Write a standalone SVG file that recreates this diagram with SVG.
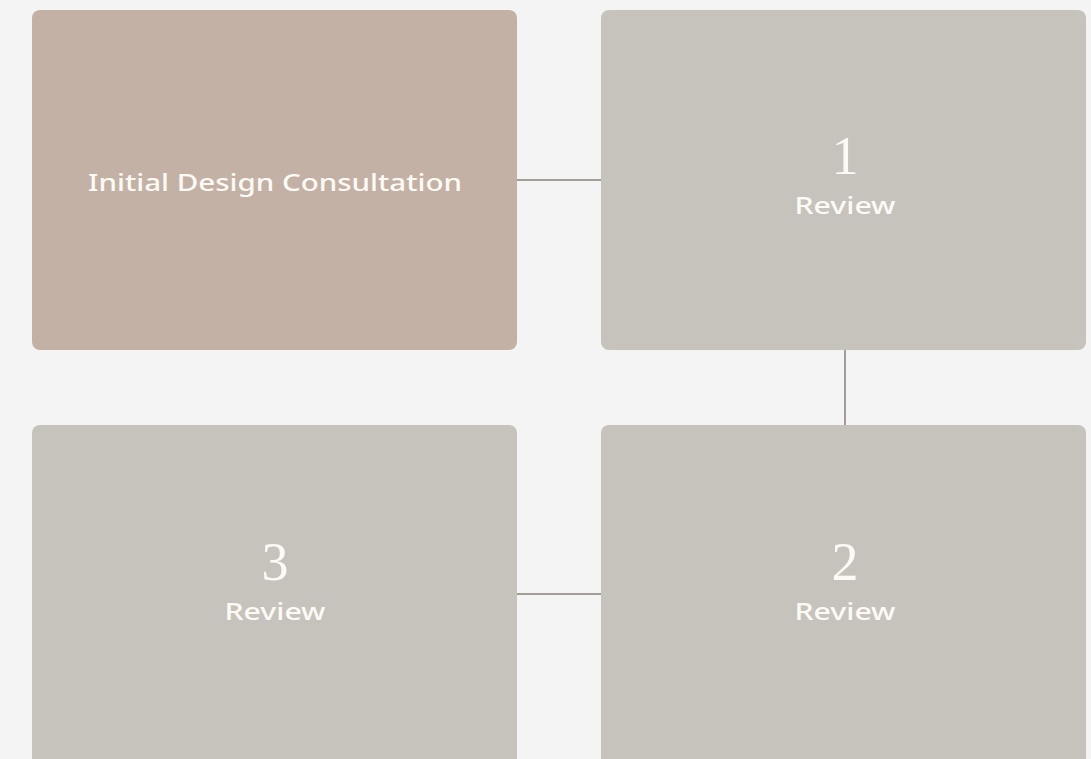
<svg xmlns="http://www.w3.org/2000/svg" width="1091" height="759" viewBox="0 0 1091 759">
<style>
.box{fill:#c6c3bd}
.first{fill:#c3b1a6}
.lbl{font-family:"Noto Sans","Open Sans",sans-serif;font-size:24px;font-weight:500;fill:#fdfaf5;text-anchor:middle}
.num{font-family:"Liberation Serif","DejaVu Serif",serif;font-size:54px;fill:#fdfaf5;text-anchor:middle}
.conn{stroke:#a39d98;stroke-width:2;fill:none}
</style>
<rect width="1091" height="759" fill="#f4f4f4"/>
<g id="connectors">
<line class="conn" x1="517" y1="180" x2="601" y2="180"/>
<line class="conn" x1="845" y1="350" x2="845" y2="425"/>
<line class="conn" x1="517" y1="594" x2="601" y2="594"/>
</g>
<g id="node-initial">
<rect class="first" x="32" y="10" width="485" height="340" rx="8"/>
<text class="lbl" x="275" y="191" textLength="374" lengthAdjust="spacingAndGlyphs">Initial Design Consultation</text>
</g>
<g id="node-review1">
<rect class="box" x="601" y="10" width="485" height="340" rx="8"/>
<text class="num" x="845" y="174">1</text>
<text class="lbl" x="845" y="214" textLength="101" lengthAdjust="spacingAndGlyphs">Review</text>
</g>
<g id="node-review2">
<rect class="box" x="601" y="425" width="485" height="344" rx="8"/>
<text class="num" x="845" y="580">2</text>
<text class="lbl" x="845" y="620" textLength="101" lengthAdjust="spacingAndGlyphs">Review</text>
</g>
<g id="node-review3">
<rect class="box" x="32" y="425" width="485" height="344" rx="8"/>
<text class="num" x="275" y="580">3</text>
<text class="lbl" x="275" y="620" textLength="101" lengthAdjust="spacingAndGlyphs">Review</text>
</g>
</svg>
